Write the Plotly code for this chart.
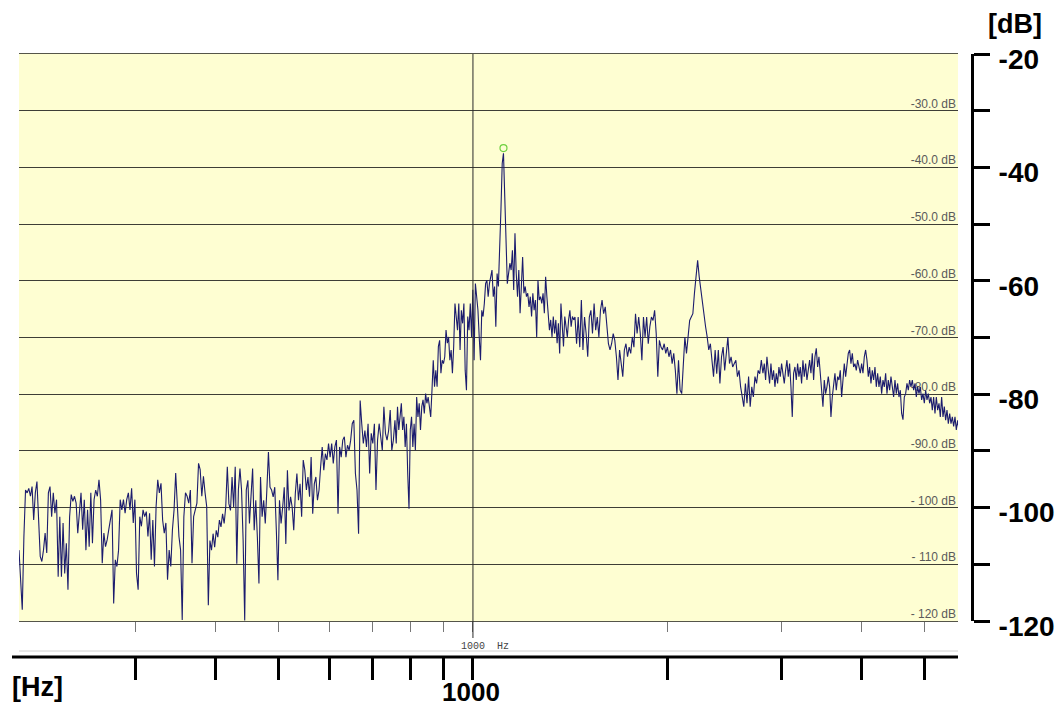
import numpy as np
import plotly.graph_objects as go

# ---------------- data ----------------
# frequency boundaries of the five read-off segments (Hz)
seg_bounds_hz = [198.3, 389.4, 757.3, 1438.6, 2811.0, 5654.0]

seg_a_db = [-107.5,-113.3,-118.0,-105.1,-96.9,-97.4,-96.6,-98.0,-96.3,-102.2,-97.4,-95.4,-101.6,-108.6,-109.5,-107.5,-104.5,-108.0,-97.4,-96.3,
            -101.6,-97.4,-101.0,-98.6,-112.2,-101.6,-112.2,-102.7,-111.6,-106.3,-114.5,-101.6,-97.7,-98.9,-98.0,-99.2,-104.5,-101.6,-97.4,-103.9,
            -98.6,-107.5,-100.4,-106.9,-97.4,-106.3,-98.6,-96.9,-98.0,-95.1,-98.6,-109.8,-104.5,-106.9,-105.7,-103.9,-102.2,-100.4,-116.9,-109.2,
            -110.4,-107.5,-98.6,-100.4,-98.6,-101.0,-98.6,-97.4,-100.4,-96.6,-102.7,-98.6,-111.6,-114.5,-101.6,-103.3,-100.4,-101.6,-100.7,-105.1,
            -101.0,-109.2,-102.2,-110.4,-99.8,-95.1,-97.4,-95.7,-102.2,-104.5,-102.7,-112.7,-107.5,-110.4,-103.9,-100.4,-93.9,-98.6,-105.1,-107.5,
            -119.8,-101.6,-97.4,-98.0,-99.2,-96.9,-109.8,-101.6,-100.4,-99.2,-92.2,-93.3,-98.0,-94.5,-97.4,-99.8]

seg_b_db = [-117.2,-105.8,-107.5,-104.6,-107.0,-104.0,-105.2,-102.2,-103.4,-101.1,-102.8,-99.9,-92.8,-99.3,-100.5,-94.6,-99.9,-92.8,-109.9,-96.9,
            -93.1,-96.9,-105.8,-119.9,-96.9,-95.2,-102.8,-96.9,-93.1,-104.0,-98.7,-105.2,-113.4,-94.6,-101.6,-98.7,-102.8,-96.9,-90.2,-96.4,
            -96.9,-98.1,-96.4,-104.0,-112.8,-98.7,-102.8,-99.9,-96.4,-106.4,-93.4,-100.5,-98.1,-99.9,-104.0,-97.5,-94.0,-98.7,-95.8,-101.6,
            -91.6,-93.4,-96.9,-94.6,-98.1,-91.1,-101.1,-95.8,-94.6,-98.7,-96.9,-92.8,-89.3,-93.4,-90.5,-91.6,-88.7,-91.1,-88.7,-92.2,
            -89.3,-88.1,-101.1,-89.3,-91.1,-88.1,-87.5,-91.1,-89.0,-89.9,-88.1,-85.2,-84.6,-94.0,-96.9,-104.6,-81.1,-85.2,-88.7,-86.4,
            -89.3,-85.2,-94.0,-86.9,-88.7,-85.2,-96.9,-88.1,-85.2,-87.5,-89.9,-82.2,-86.9,-88.1,-86.4,-82.8,-89.9,-88.1]

seg_c_db = [-84.6,-88.7,-82.2,-86.3,-83.4,-81.6,-86.3,-84.0,-89.3,-85.2,-94.0,-100.2,-86.3,-84.0,-89.3,-85.2,-89.9,-80.5,-84.0,-81.6,
            -86.3,-82.2,-81.0,-83.4,-79.9,-81.6,-80.5,-82.2,-84.0,-79.3,-74.0,-78.7,-75.8,-78.7,-71.6,-70.5,-76.3,-74.0,-74.6,-73.4,
            -68.7,-71.0,-69.9,-74.0,-72.2,-76.3,-71.6,-64.0,-66.3,-68.7,-64.0,-72.2,-65.2,-67.5,-64.0,-75.8,-79.3,-66.3,-68.7,-64.0,
            -69.9,-61.6,-74.0,-60.5,-62.8,-65.2,-69.9,-74.0,-65.2,-66.3,-64.0,-60.5,-59.9,-62.8,-60.5,-59.3,-58.1,-62.8,-61.0,-68.1,
            -58.7,-61.0,-55.8,-47.5,-39.3,-37.5,-45.2,-54.6,-60.5,-58.7,-56.9,-58.1,-54.6,-61.6,-51.6,-58.7,-62.8,-58.1,-65.7,-61.0,
            -55.8,-62.2,-61.0,-62.8,-62.2,-64.6,-62.8,-66.3,-62.2,-65.2,-63.4,-69.9,-59.9,-63.4,-62.8,-64.0,-62.2,-65.7,-59.3,-62.8,
            -65.2,-68.7,-66.9,-69.9,-66.3,-69.3,-66.9,-71.0,-67.5,-72.8,-64.0,-68.7,-71.6,-66.3,-68.1,-69.9,-66.9,-65.2,-68.1,-66.3,-66.9]

seg_d_db = [-66.4,-71.1,-66.4,-71.7,-63.4,-72.2,-66.4,-69.3,-73.4,-66.4,-65.2,-69.3,-64.0,-68.7,-66.4,-69.9,-65.2,-63.4,-65.8,-64.6,
            -68.7,-71.1,-72.2,-71.1,-69.3,-70.5,-73.4,-77.5,-72.2,-74.6,-76.9,-72.2,-71.1,-73.4,-71.7,-72.8,-69.9,-71.7,-65.8,-69.3,
            -66.4,-69.3,-74.0,-66.4,-69.9,-66.4,-71.1,-68.1,-66.4,-67.0,-65.2,-69.3,-76.9,-70.5,-71.7,-72.2,-71.1,-72.8,-71.7,-73.4,
            -72.2,-74.6,-72.8,-75.8,-79.9,-74.0,-79.3,-79.9,-75.2,-69.9,-72.8,-69.3,-67.0,-66.4,-65.8,-62.2,-59.3,-56.4,-59.3,-61.7,
            -64.0,-66.4,-68.1,-69.9,-72.2,-71.1,-74.6,-76.9,-72.2,-76.4,-72.2,-78.1,-73.4,-71.7,-75.8,-72.2,-69.9,-74.6,-73.4,-75.2,
            -74.6,-74.0,-76.9,-75.8,-78.7,-80.5,-82.2,-78.1,-81.6,-76.9,-82.2,-78.7,-80.5,-76.9,-78.1,-75.8,-76.4,-74.0]

seg_e_db = [-76.3,-74.6,-77.5,-73.4,-75.8,-78.1,-74.6,-77.5,-75.8,-78.7,-76.3,-78.1,-75.2,-76.9,-74.6,-76.3,-78.1,-75.8,-74.0,-76.9,
            -74.6,-78.7,-84.0,-76.3,-75.2,-77.5,-74.6,-76.9,-75.2,-78.1,-74.0,-76.9,-74.6,-77.5,-75.8,-74.0,-76.3,-72.8,-77.5,-73.4,
            -71.9,-75.2,-73.4,-76.9,-80.5,-82.2,-77.5,-79.9,-78.7,-76.9,-78.7,-84.0,-80.5,-78.1,-76.3,-79.3,-76.9,-77.5,-75.8,-80.5,
            -78.1,-74.6,-76.9,-75.2,-72.8,-72.2,-74.6,-72.8,-75.2,-74.6,-75.8,-74.0,-75.2,-76.3,-74.6,-76.3,-73.4,-72.2,-74.0,-76.9,
            -75.2,-78.1,-75.8,-77.5,-75.2,-78.7,-76.3,-78.7,-76.9,-79.9,-77.5,-78.7,-76.3,-79.9,-77.5,-79.3,-76.9,-78.7,-80.5,-77.5,
            -79.9,-78.1,-80.5,-79.3,-83.4,-84.5,-80.5,-79.9,-78.1,-79.3,-77.5,-78.7,-77.5,-79.3,-78.1,-80.5,-78.7,-79.9,-78.7,-81.0,
            -79.9,-81.6,-79.3,-81.0,-79.9,-81.6,-80.5,-82.8,-80.5,-83.4,-80.5,-82.8,-81.6,-84.0,-80.5,-84.0,-82.2,-84.6,-82.8,-85.2,
            -83.4,-85.2,-84.0,-85.7,-84.0,-86.3,-84.6,-86.3]

peak_marker_db = -36.6

grid_db = [-30, -40, -50, -60, -70, -80, -90, -100, -110, -120]
grid_labels = ["-30.0 dB", "-40.0 dB", "-50.0 dB", "-60.0 dB", "-70.0 dB",
               "-80.0 dB", "-90.0 dB", "- 100 dB", "- 110 dB", "- 120 dB"]

db_ticks = [-20, -30, -40, -50, -60, -70, -80, -90, -100, -110, -120]
db_ticktext = ["-20", "", "-40", "", "-60", "", "-80", "", "-100", "", "-120"]

hz_ticks = [300, 400, 500, 600, 700, 800, 900, 1000, 2000, 3000, 4000, 5000]
hz_blank_text = [""] * 12
hz_label_value = 1000
hz_label_text = "1000"

x_min_hz, x_max_hz = 198.3, 5634.0
y_min_db, y_max_db = -120, -20

# ---------------- build trace ----------------
segments = [seg_a_db, seg_b_db, seg_c_db, seg_d_db, seg_e_db]
freqs, levels = [], []
for i, seg in enumerate(segments):
    last = (i == len(segments) - 1)
    f = np.geomspace(seg_bounds_hz[i], seg_bounds_hz[i + 1], len(seg), endpoint=last)
    freqs.extend(f.tolist())
    levels.extend(seg)

peak_idx = int(np.argmax(levels))
peak_f = freqs[peak_idx]

xr = [np.log10(x_min_hz), np.log10(x_max_hz)]
label_x = 10 ** (xr[1] - 0.003)

FONT = "Liberation Sans, Arial, sans-serif"

fig = go.Figure()

# in-plot grid labels (drawn below the spectrum)
fig.add_trace(go.Scatter(
    x=[label_x] * len(grid_db), y=grid_db, mode="text", text=grid_labels,
    textposition="top left", textfont=dict(family=FONT, size=12, color="#5a5a5a"),
    hoverinfo="skip", showlegend=False, cliponaxis=False))

fig.add_trace(go.Scatter(
    x=freqs, y=levels, mode="lines",
    line=dict(color="#1c1c6e", width=1.1), showlegend=False))

fig.add_trace(go.Scatter(
    x=[peak_f], y=[peak_marker_db], mode="markers",
    marker=dict(symbol="circle-open", size=7, color="#6fd040", line=dict(width=1.2)),
    showlegend=False))

# invisible traces to activate secondary axes
fig.add_trace(go.Scatter(x=[1000], y=[-70], yaxis="y2", mode="markers",
                         marker=dict(opacity=0), showlegend=False, hoverinfo="skip"))
fig.add_trace(go.Scatter(x=[1000], y=[-70], xaxis="x2", mode="markers",
                         marker=dict(opacity=0), showlegend=False, hoverinfo="skip"))

L, R, T, B = 12, 90, 54, 52
W, H = 1062, 709
pw, ph = W - L - R, H - T - B
x_dom = [(19 - L) / pw, (958 - L) / pw]
y_dom = [(H - B - 621) / ph, 1.0]

fig.update_layout(
    width=W, height=H,
    margin=dict(l=L, r=R, t=T, b=B, autoexpand=False),
    paper_bgcolor="white",
    plot_bgcolor="#fefed2",
    showlegend=False,
    xaxis=dict(type="log", range=xr, domain=x_dom, anchor="y", automargin=False,
               tickvals=hz_ticks, ticktext=hz_blank_text,
               ticks="outside", ticklen=10, tickcolor="#777", tickwidth=1,
               showgrid=False, zeroline=False,
               showline=True, linecolor="#55554a", linewidth=1, mirror=True),
    yaxis=dict(range=[y_min_db, y_max_db], domain=y_dom, anchor="x", automargin=False,
               tickvals=db_ticks, showticklabels=False, ticks="",
               showgrid=True, gridcolor="#3e3e36", gridwidth=1,
               zeroline=False, showline=False),
    yaxis2=dict(range=[y_min_db, y_max_db], overlaying="y", side="right",
                anchor="free", position=1.0, automargin=False,
                tickvals=db_ticks, ticktext=db_ticktext,
                ticks="outside", ticklen=16, tickwidth=3, tickcolor="black",
                showline=True, linewidth=3, linecolor="black",
                showgrid=False, zeroline=False,
                ticklabelstandoff=3, ticklabelshift=5,
                tickfont=dict(family=FONT, size=28, color="black", weight="bold")),
    xaxis2=dict(type="log", range=xr, overlaying="x", side="bottom",
                anchor="free", position=0.0, automargin=False,
                tickvals=hz_ticks, ticktext=hz_blank_text,
                ticks="outside", ticklen=22, tickwidth=3, tickcolor="black",
                showline=False, showgrid=False, zeroline=False),
)

# outer frequency axis line
fig.add_shape(type="line", xref="paper", yref="paper", x0=0, x1=x_dom[1], y0=0, y1=0,
              line=dict(color="black", width=3))
# light separator line
fig.add_shape(type="line", xref="paper", yref="paper", x0=x_dom[0], x1=x_dom[1],
              y0=6 / ph, y1=6 / ph, line=dict(color="#d0d0d0", width=1))
# 1000 Hz reference line
fig.add_shape(type="line", xref="x", yref="paper", x0=1000, x1=1000,
              y0=19 / ph, y1=1.0, line=dict(color="#2a2a2a", width=1))

fig.add_annotation(text="1000  Hz", x=np.log10(1000), xref="x", xshift=12,
                   y=11 / ph, yref="paper", showarrow=False, xanchor="center", yanchor="middle",
                   font=dict(family="Liberation Mono, Courier New, monospace", size=10, color="#444"))
fig.add_annotation(text=hz_label_text, x=np.log10(hz_label_value), xref="x", xshift=-2,
                   y=-(692 - (H - B)) / ph, yref="paper", showarrow=False,
                   xanchor="center", yanchor="middle",
                   font=dict(family=FONT, size=26, color="black", weight="bold"))
fig.add_annotation(text="[dB]", x=(1015 - L) / pw, y=(H - B - 24) / ph, xref="paper", yref="paper",
                   showarrow=False, xanchor="center", yanchor="middle",
                   font=dict(family=FONT, size=27, color="black", weight="bold"))
fig.add_annotation(text="[Hz]", x=(37 - L) / pw, y=(H - B - 687) / ph, xref="paper", yref="paper",
                   showarrow=False, xanchor="center", yanchor="middle",
                   font=dict(family=FONT, size=27, color="black", weight="bold"))

fig.write_html("out.html")
